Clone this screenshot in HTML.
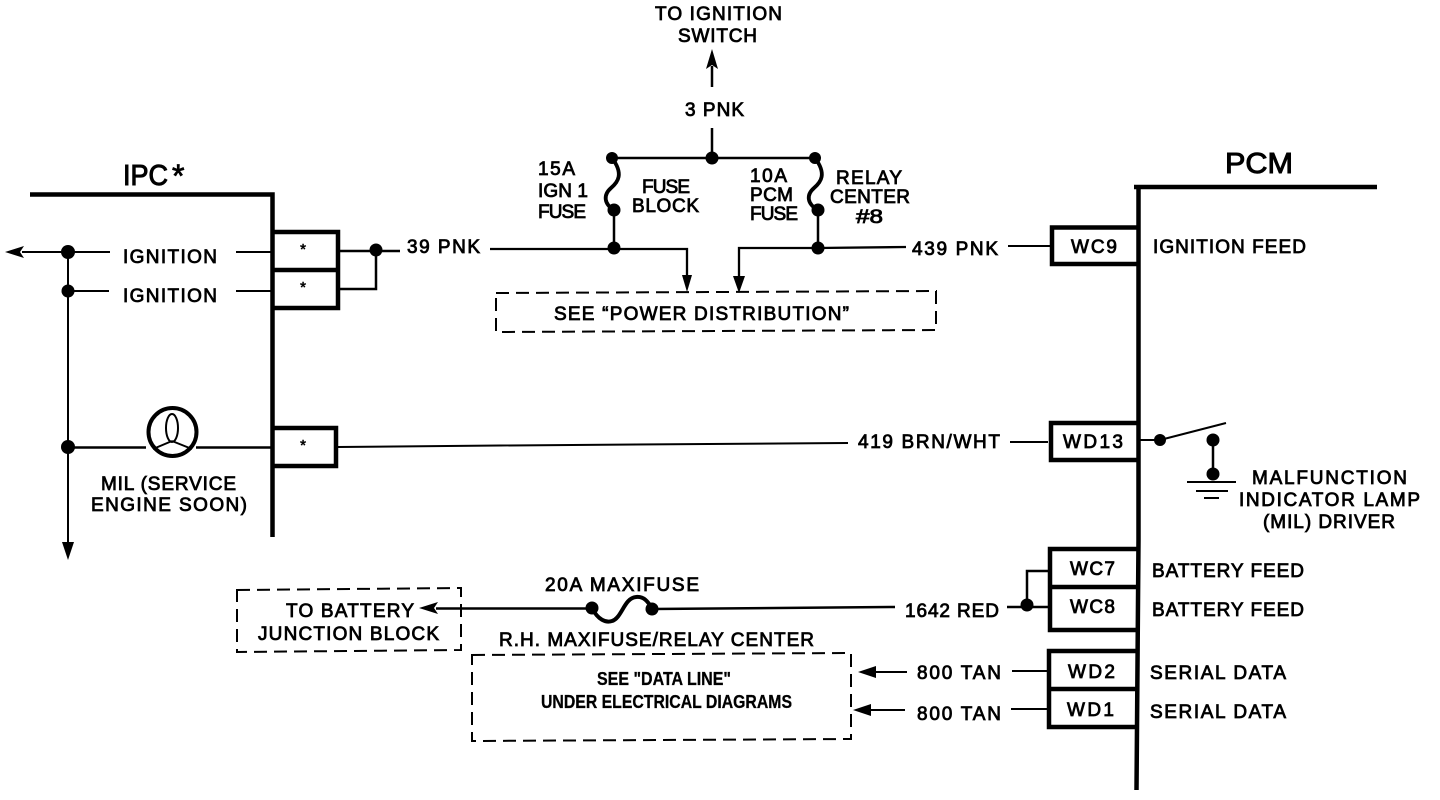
<!DOCTYPE html>
<html>
<head>
<meta charset="utf-8">
<style>
html,body{margin:0;padding:0;background:#fff;width:1440px;height:800px;overflow:hidden}
svg{display:block}
text{font-family:"Liberation Sans",sans-serif;font-size:19px;fill:#000;stroke:#000;stroke-width:.8px}
.b{font-size:18px;font-weight:bold;stroke-width:.3px}
.h{font-size:29px;stroke-width:1px}
.s{font-size:15px;stroke-width:.6px;text-anchor:middle}
.w{fill:none;stroke:#000;stroke-width:2}
.k{fill:none;stroke:#000;stroke-width:4.5}
.d{fill:none;stroke:#000;stroke-width:2;stroke-dasharray:13 7}
circle.n{fill:#000}
polygon{fill:#000}
</style>
</head>
<body>
<svg width="1440" height="800" viewBox="0 0 1440 800" xmlns="http://www.w3.org/2000/svg">
<rect width="1440" height="800" fill="#fff"/>

<!-- IPC module -->
<path class="k" d="M30 194.500H272.500V537"/>
<path class="k" d="M274 232H338V308H274M274 270H338"/>
<path class="k" d="M274 428H336V466H274"/>
<path class="w" d="M68 252H110M236 252H272M68 291H109M236 291H272"/>
<path class="w" d="M22 252H68M68 252V545"/>
<polygon points="5,252 24,246 20,252 24,258"/>
<polygon points="62,542 74,542 68,560"/>
<circle class="n" cx="68" cy="252" r="7"/>
<circle class="n" cx="68" cy="291" r="6.500"/>
<circle class="n" cx="68" cy="447" r="7"/>
<path class="w" d="M68 447.500H146M196 447.500H272" style="stroke-width:2.600"/>
<circle cx="172.500" cy="432" r="24" fill="#fff" stroke="#000" stroke-width="4"/>
<ellipse cx="172" cy="428" rx="6" ry="14" fill="none" stroke="#000" stroke-width="2"/>
<path class="w" d="M172 441L153 449M172 441L192 449"/>

<!-- 39 PNK -->
<path class="w" style="stroke-width:2.500" d="M338 251H400M338 289H376V250"/>
<circle class="n" cx="376" cy="250" r="6.500"/>
<path class="w" style="stroke-width:2.300" d="M490 249H687V280"/>
<polygon points="682,275 692,275 687,292"/>
<path class="w" style="stroke-width:2.300" d="M906 247L818 248H739V280"/>
<polygon points="733,276 745,276 739,293"/>

<!-- Fuse block -->
<path class="w" style="stroke-width:2.500" d="M612 158H815M712 128V158M712 87V66M614 210V248M818 210V248"/>
<polygon points="712,49 706,69 712,65 718,69"/>
<path d="M612 158C624 174 618 182 611 188C603 195 604 204 614 210" fill="none" stroke="#000" stroke-width="3.800"/>
<path d="M815 158C827 174 821 182 814 188C806 195 807 204 818 210" fill="none" stroke="#000" stroke-width="3.800"/>
<circle class="n" cx="612" cy="158" r="6"/>
<circle class="n" cx="712" cy="158" r="6.500"/>
<circle class="n" cx="815" cy="158" r="6"/>
<circle class="n" cx="614" cy="210" r="6.500"/>
<circle class="n" cx="818" cy="210" r="6.500"/>
<circle class="n" cx="614" cy="248" r="6.500"/>
<circle class="n" cx="818" cy="248" r="6.500"/>
<polygon class="d" points="496,293 936,291 936,330 496,332"/>

<!-- 419 -->
<path class="w" d="M338 447L500 445.500L848 443M1010 442H1048"/>

<!-- PCM module -->
<path class="k" d="M1134 187H1377"/>
<path class="k" d="M1138.500 187V540L1136.500 790"/>
<path class="k" d="M1137 227.500H1052V264H1137"/>
<path class="k" d="M1137 423H1051V460H1137"/>
<path class="k" d="M1137 549H1050V630H1137M1050 587H1137"/>
<path class="k" d="M1137 651H1049V727H1137M1049 689H1137"/>
<path class="w" d="M1008 246H1050M1139 440H1160M1160 440L1226 423"/>
<path class="w" style="stroke-width:2.500" d="M1213 440V474"/>
<circle class="n" cx="1160" cy="440" r="6"/>
<circle class="n" cx="1213" cy="440" r="6.500"/>
<circle class="n" cx="1213" cy="474" r="6.500"/>
<path class="w" d="M1187 482H1236M1196 491H1228M1204 498H1219"/>

<!-- 1642 RED -->
<path class="w" style="stroke-width:2.500" d="M1007 607H1048M1027 605V571H1048"/>
<circle class="n" cx="1027" cy="605" r="6.500"/>
<path class="w" style="stroke-width:2.500" d="M895 607L652 609"/>
<path class="w" style="stroke-width:2.500" d="M436 608.500H592"/>
<polygon points="419,608 438,602 434,608 438,614"/>
<path d="M592 608C598 620 606 623 612 621C622 618 624 598 636 597C644 596 648 602 652 608" fill="none" stroke="#000" stroke-width="4"/>
<circle class="n" cx="592" cy="608" r="6.500"/>
<circle class="n" cx="652" cy="609" r="6.500"/>
<polygon class="d" points="237,590 461,588 461,650 237,652"/>
<polygon class="d" points="472,655 851,653 851,739 472,741"/>

<!-- 800 TAN -->
<path class="w" d="M872 672H907M1012 671H1048M868 710H905M1011 709H1048"/>
<polygon points="858,672 876,666 876,678"/>
<polygon points="853,710 871,704 871,716"/>

<!-- Labels -->
<text x="655" y="20" textLength="127">TO IGNITION</text>
<text x="678" y="42" textLength="79">SWITCH</text>
<text x="685" y="116" textLength="59">3 PNK</text>
<text x="538" y="175" textLength="37">15A</text>
<text x="538" y="197" textLength="50">IGN 1</text>
<text x="538" y="218" textLength="48">FUSE</text>
<text x="642" y="193" textLength="48">FUSE</text>
<text x="632" y="212" textLength="67">BLOCK</text>
<text x="750" y="182" textLength="37">10A</text>
<text x="750" y="201" textLength="43">PCM</text>
<text x="750" y="220" textLength="48">FUSE</text>
<text x="836" y="184" textLength="66">RELAY</text>
<text x="830" y="203" textLength="80">CENTER</text>
<text x="856" y="223" textLength="27" lengthAdjust="spacingAndGlyphs">#8</text>
<text x="912" y="255" textLength="86">439 PNK</text>
<text x="407" y="253" textLength="73">39 PNK</text>
<text x="554" y="320" textLength="295">SEE “POWER DISTRIBUTION”</text>

<text class="h" x="123" y="185" textLength="45" lengthAdjust="spacingAndGlyphs">IPC</text>
<text x="172" y="187" style="font-size:32px">*</text>
<text x="123" y="263" textLength="94">IGNITION</text>
<text x="123" y="302" textLength="94">IGNITION</text>
<text class="s" x="303" y="254">*</text>
<text class="s" x="303" y="292">*</text>
<text class="s" x="303" y="450">*</text>
<text x="101" y="490" textLength="135">MIL (SERVICE</text>
<text x="91" y="511" textLength="156">ENGINE SOON)</text>
<text x="858" y="448" textLength="142">419 BRN/WHT</text>

<text class="h" x="1225" y="173" textLength="68" lengthAdjust="spacingAndGlyphs">PCM</text>
<text x="1071" y="253" textLength="46">WC9</text>
<text x="1153" y="253" textLength="153">IGNITION FEED</text>
<text x="1063" y="448" textLength="60">WD13</text>
<text x="1252" y="484" textLength="155">MALFUNCTION</text>
<text x="1239" y="506" textLength="181">INDICATOR LAMP</text>
<text x="1263" y="528" textLength="132">(MIL) DRIVER</text>
<text x="1070" y="575" textLength="45">WC7</text>
<text x="1070" y="613" textLength="45">WC8</text>
<text x="1152" y="577" textLength="152">BATTERY FEED</text>
<text x="1152" y="616" textLength="152">BATTERY FEED</text>
<text x="905" y="617" textLength="94">1642 RED</text>
<text x="917" y="679" textLength="84">800 TAN</text>
<text x="917" y="720" textLength="84">800 TAN</text>
<text x="1068" y="678" textLength="47">WD2</text>
<text x="1067" y="716" textLength="47">WD1</text>
<text x="1150" y="679" textLength="136">SERIAL DATA</text>
<text x="1150" y="718" textLength="136">SERIAL DATA</text>

<text x="545" y="591" textLength="154">20A MAXIFUSE</text>
<text x="499" y="646" textLength="315">R.H. MAXIFUSE/RELAY CENTER</text>
<text x="286" y="617" textLength="128">TO BATTERY</text>
<text x="258" y="640" textLength="181">JUNCTION BLOCK</text>
<text class="b" x="597" y="685" textLength="134" lengthAdjust="spacingAndGlyphs">SEE "DATA LINE"</text>
<text class="b" x="541" y="708" textLength="251" lengthAdjust="spacingAndGlyphs">UNDER ELECTRICAL DIAGRAMS</text>
</svg>
</body>
</html>
